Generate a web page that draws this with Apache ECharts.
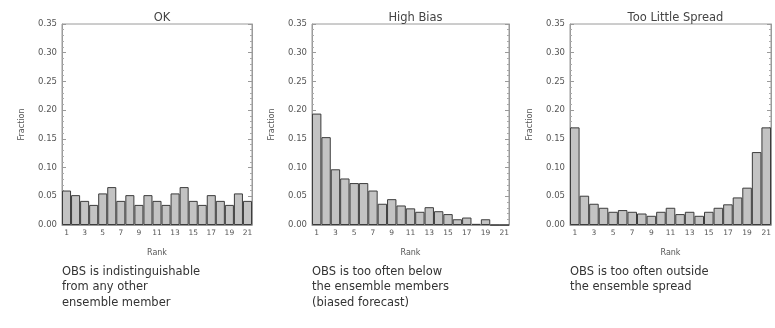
<!DOCTYPE html>
<html>
<head>
<meta charset="utf-8">
<script src="https://cdn.jsdelivr.net/npm/echarts@6/dist/echarts.min.js"></script>
<style>
html,body{margin:0;padding:0;background:#fff;}
#chart{width:775px;height:328px;}
</style>
</head>
<body>
<div id="chart"></div>
<script>
// ---- Data ----
const ranks = ['1','2','3','4','5','6','7','8','9','10','11','12','13','14','15','16','17','18','19','20','21'];
const titles = ['OK', 'High Bias', 'Too Little Spread'];
const okValues = [0.060,0.052,0.042,0.035,0.055,0.066,0.042,0.052,0.035,0.052,0.042,0.035,0.055,0.066,0.042,0.035,0.052,0.042,0.035,0.055,0.042];
const highBiasValues = [0.194,0.153,0.097,0.081,0.073,0.073,0.060,0.037,0.045,0.034,0.029,0.023,0.031,0.024,0.019,0.010,0.013,0.002,0.010,0.000,0.000];
const spreadValues = [0.170,0.051,0.037,0.030,0.023,0.026,0.023,0.020,0.016,0.023,0.030,0.019,0.023,0.016,0.023,0.030,0.036,0.048,0.065,0.127,0.170];
const captions = [
  'OBS is indistinguishable\nfrom any other\nensemble member',
  'OBS is too often below\nthe ensemble members\n(biased forecast)',
  'OBS is too often outside\nthe ensemble spread'
];
const yAxisName = 'Fraction';
const xAxisName = 'Rank';

// ---- Layout ----
const panels = [
  {left: 62, width: 190},
  {left: 312, width: 197},
  {left: 570, width: 201}
];
const gridTop = 24, gridBottomY = 225;
const seriesData = [okValues, highBiasValues, spreadValues];

const font = 'DejaVu Sans';
const grids = [], xAxes = [], yAxes = [], series = [], title = [], graphic = [];

panels.forEach((p, i) => {
  grids.push({left: p.left, top: gridTop, width: p.width, height: gridBottomY - gridTop,
    show: true, borderColor: '#9a9a9a', borderWidth: 1, backgroundColor: 'transparent'});
  xAxes.push({
    type: 'category', gridIndex: i, data: ranks, boundaryGap: true,
    name: xAxisName, nameLocation: 'middle', nameGap: 24,
    nameTextStyle: {fontFamily: font, fontSize: 8, color: '#555'},
    axisLine: {show: true, lineStyle: {color: '#9a9a9a'}},
    axisTick: {show: false},
    axisLabel: {interval: 1, fontFamily: font, fontSize: 7.5, color: '#555', margin: 4}
  });
  yAxes.push({
    type: 'value', gridIndex: i, min: 0, max: 0.35, interval: 0.05,
    name: yAxisName, nameLocation: 'middle', nameGap: 36, nameRotate: 90,
    nameTextStyle: {fontFamily: font, fontSize: 8, color: '#555'},
    axisLine: {show: true, lineStyle: {color: '#9a9a9a'}},
    axisTick: {show: true, inside: true, length: 4, lineStyle: {color: '#9a9a9a'}},
    minorTick: {show: true, splitNumber: 5, length: 2, lineStyle: {color: '#aaa'}},
    splitLine: {show: false},
    axisLabel: {fontFamily: font, fontSize: 8.5, color: '#555', margin: 5,
      formatter: v => v.toFixed(2)}
  });
  yAxes.push({
    type: 'value', gridIndex: i, min: 0, max: 0.35, interval: 0.05, position: 'right',
    axisLine: {show: true, lineStyle: {color: '#9a9a9a'}},
    axisTick: {show: true, inside: true, length: 4, lineStyle: {color: '#9a9a9a'}},
    minorTick: {show: true, splitNumber: 5, length: 2, lineStyle: {color: '#aaa'}},
    splitLine: {show: false},
    axisLabel: {show: false}
  });
  series.push({
    type: 'bar', xAxisIndex: i, yAxisIndex: i * 2, data: seriesData[i],
    barCategoryGap: '0%', barGap: '0%',
    itemStyle: {color: '#c3c3c3', borderColor: '#3c3c3c', borderWidth: 1},
    silent: true, animation: false
  });
  title.push({
    text: titles[i], left: p.left + p.width / 2, top: 7, textAlign: 'center',
    textStyle: {fontFamily: font, fontSize: 11.5, fontWeight: 'normal', color: '#444'}
  });
  graphic.push({
    type: 'text', left: p.left, top: 264,
    style: {text: captions[i], font: '11.5px "DejaVu Sans"', fill: '#333', lineHeight: 15.5}
  });
});

const chart = echarts.init(document.getElementById('chart'), null, {renderer: 'canvas'});
chart.setOption({
  animation: false,
  backgroundColor: '#fff',
  title: title,
  grid: grids,
  xAxis: xAxes,
  yAxis: yAxes,
  series: series,
  graphic: graphic
});
</script>
</body>
</html>
